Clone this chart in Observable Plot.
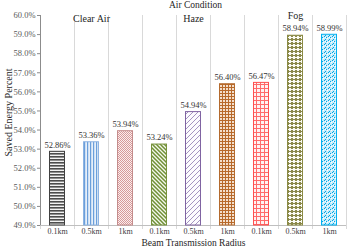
<!DOCTYPE html>
<html>
<head>
<meta charset="utf-8">
<script src="https://cdn.jsdelivr.net/npm/d3@7"></script>
<script src="https://cdn.jsdelivr.net/npm/@observablehq/plot@0.6"></script>
<style>
  html, body { margin: 0; padding: 0; background: #fff; }
  #chart svg, #chart svg text, #chart svg g { font-family: "Liberation Serif", "Times New Roman", "DejaVu Serif", serif !important; }
</style>
</head>
<body>
<div id="chart"></div>
<script>
const groups = ["Clear Air","Clear Air","Clear Air","Haze","Haze","Haze","Fog","Fog","Fog"];
const radius = ["0.1km","0.5km","1km","0.1km","0.5km","1km","0.1km","0.5km","1km"];
const saved  = [52.86, 53.36, 53.94, 53.24, 54.94, 56.40, 56.47, 58.94, 58.99];
const yTicks = [49, 50, 51, 52, 53, 54, 55, 56, 57, 58, 59, 60];
const groupLabels = ["Clear Air", "Haze", "Fog"];
const title = "Air Condition";
const xTitle = "Beam Transmission Radius";
const yTitle = "Saved Energy Percent";

const fills = ["url(#p0)","url(#p1)","url(#p2)","url(#p3)","url(#p4)","url(#p5)","url(#p6)","url(#p7)","url(#p8)"];
const strokes = ["#404040","#8db3e2","#c48c8c","#77933c","#8064a2","#b46a2e","#ff5050","#8b8b45","#00b0f0"];

const keys = d3.range(saved.length);
const data = keys.map(i => ({k: i, group: groups[i], r: radius[i], v: saved[i]}));
const labelData = groupLabels.map(g => ({g, k: keys.filter(i => groups[i] === g)[1]}));
const yMin = yTicks[0];

const W = 349, H = 249, mL = 40, mR = 3;
const half = (W - mL - mR) / keys.length / 2;

const plot = Plot.plot({
  width: W, height: H,
  marginLeft: mL, marginRight: mR, marginTop: 15, marginBottom: 24,
  style: {fontFamily: "'Liberation Serif', serif", background: "#fff"},
  x: {domain: keys, padding: 0, axis: null},
  y: {domain: [yTicks[0], yTicks[yTicks.length - 1]], axis: null},
  color: {type: "identity"},
  marks: [
    Plot.ruleX(keys, {x: d => d, dx: -half, stroke: "#d9d9d9", insetBottom: -4}),
    Plot.ruleX([keys[keys.length - 1]], {x: d => d, dx: half, stroke: "#d9d9d9", insetBottom: -4}),
    Plot.ruleY([yMin], {stroke: "#bfbfbf"}),
    Plot.ruleX([keys[0]], {x: d => d, dx: -half, stroke: "#8c8c8c"}),
    Plot.axisY({ticks: yTicks, tickFormat: d => d.toFixed(1) + "%", tickSize: 3, tickPadding: 2,
      fontSize: 8.5, color: "#595959", stroke: "#8c8c8c", label: null}),
    Plot.axisX({tickSize: 0, tickPadding: 3, tickFormat: i => radius[i], fontSize: 8,
      color: "#404040", label: null, style: {letterSpacing: "1px"}}),
    Plot.barY(data, {x: "k", y1: () => yMin, y2: "v", fill: d => fills[d.k], stroke: d => strokes[d.k],
      strokeWidth: 1, insetLeft: 9.5, insetRight: 9.5}),
    Plot.text(data, {x: "k", y: "v", text: d => d.v.toFixed(2) + "%", dy: -7, fontSize: 8.5, fill: "#333333"}),
    Plot.text(labelData.filter(d => d.g !== "Fog"), {x: "k", text: "g", frameAnchor: "top", dy: -1, fontSize: 10, fill: "#262626"}),
    Plot.text(labelData.filter(d => d.g === "Fog"), {x: "k", text: "g", frameAnchor: "top", dy: -4, fontSize: 10, fill: "#262626"}),
    Plot.text([title], {frameAnchor: "top", dy: -14, dx: 2, fontSize: 9.5, fill: "#262626"}),
    Plot.text([xTitle], {frameAnchor: "bottom", dy: 20, fontSize: 9.5, fill: "#262626"}),
    Plot.text([yTitle], {frameAnchor: "left", textAnchor: "middle", dx: -32, dy: -8, rotate: -90, fontSize: 10, fill: "#262626"})
  ]
});

const defs = `
<pattern id="p0" width="4" height="3" patternUnits="userSpaceOnUse">
  <rect width="4" height="3" fill="#f2f2f2"/><rect width="4" height="1.6" fill="#4d4d4d"/>
</pattern>
<pattern id="p1" width="3" height="4" patternUnits="userSpaceOnUse">
  <rect width="3" height="4" fill="#e6effa"/><rect width="1.2" height="4" fill="#6b9fdb"/>
</pattern>
<pattern id="p2" width="2" height="2" patternUnits="userSpaceOnUse">
  <rect width="2" height="2" fill="#fbeeee"/><rect width="1" height="1" fill="#d69a9a"/><rect x="1" y="1" width="1" height="1" fill="#d69a9a"/>
</pattern>
<pattern id="p3" width="4" height="4" patternUnits="userSpaceOnUse">
  <rect width="4" height="4" fill="#f4f8ec"/>
  <path d="M-1,-1 L5,5 M-1,3 L1,5 M3,-1 L5,1" stroke="#6f8f35" stroke-width="1.5"/>
</pattern>
<pattern id="p4" width="5" height="5" patternUnits="userSpaceOnUse">
  <rect width="5" height="5" fill="#fcfbfe"/>
  <path d="M0,5 L5,0 M-1,1 L1,-1 M4,6 L6,4" stroke="#8e78b0" stroke-width="0.8"/>
</pattern>
<pattern id="p5" width="3" height="3" patternUnits="userSpaceOnUse">
  <rect width="3" height="3" fill="#f4dfcc"/>
  <rect width="3" height="1" fill="#b8692a"/><rect width="1" height="3" fill="#b8692a"/>
</pattern>
<pattern id="p6" width="4" height="4" patternUnits="userSpaceOnUse">
  <rect width="4" height="4" fill="#fff2f2"/>
  <rect width="4" height="1" fill="#ff6b6b"/><rect width="1" height="4" fill="#ff6b6b"/>
</pattern>
<pattern id="p7" width="4" height="4" patternUnits="userSpaceOnUse">
  <rect width="4" height="4" fill="#8a884a"/>
  <rect x="1" y="0" width="2" height="3" fill="#fbfbf4"/><rect x="0" y="1" width="4" height="1" fill="#fbfbf4"/>
</pattern>
<pattern id="p8" width="4" height="4" patternUnits="userSpaceOnUse">
  <rect width="4" height="4" fill="#c4ebfa"/>
  <rect x="0" y="0" width="1" height="1" fill="#00a6e6"/><rect x="2" y="1" width="1" height="1" fill="#00a6e6"/>
  <rect x="1" y="3" width="1" height="1" fill="#00a6e6"/><rect x="3" y="2" width="1" height="1" fill="#ffffff"/>
  <rect x="1" y="1" width="1" height="1" fill="#ffffff"/>
</pattern>`;
const d = document.createElementNS("http://www.w3.org/2000/svg", "defs");
d.innerHTML = defs;
plot.insertBefore(d, plot.firstChild);
document.getElementById("chart").appendChild(plot);
</script>
</body>
</html>
